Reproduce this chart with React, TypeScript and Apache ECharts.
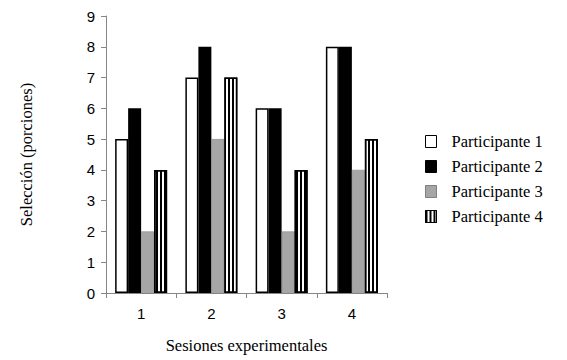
import React, { useEffect, useRef } from "react";
import * as echarts from "echarts";

const categories = ["1", "2", "3", "4"];
const participante1 = [5, 7, 6, 8];
const participante2 = [6, 8, 6, 8];
const participante3 = [2, 5, 2, 4];
const participante4 = [4, 7, 4, 5];
const seriesNames = ["Participante 1", "Participante 2", "Participante 3", "Participante 4"];

export default function App() {
  const ref = useRef<HTMLDivElement>(null);
  useEffect(() => {
    document.body.style.margin = "0";
    if (!ref.current) return;
    const chart = echarts.init(ref.current, null, { renderer: "svg" });
    const serif = "'Liberation Serif', 'Times New Roman', serif";
    const sans = "'Liberation Sans', Arial, sans-serif";
    chart.setOption({
      animation: false,
      backgroundColor: "#fff",
      grid: { left: 106, right: 180, top: 16, bottom: 67 },
      legend: {
        orient: "vertical",
        left: 420,
        top: 128,
        itemWidth: 11,
        itemHeight: 12,
        itemGap: 8,
        icon: "rect",
        itemStyle: { borderWidth: 1 },
        textStyle: { fontFamily: serif, fontSize: 16.5, color: "#000", padding: [0, 0, 0, 10] },
        data: seriesNames,
      },
      xAxis: {
        type: "category",
        data: categories,
        name: "Sesiones experimentales",
        nameLocation: "middle",
        nameGap: 44,
        nameTextStyle: { fontFamily: serif, fontSize: 16.5, color: "#000" },
        axisLine: { lineStyle: { color: "#868686", width: 1 } },
        axisTick: { show: true, length: 5, lineStyle: { color: "#868686" } },
        axisLabel: { fontFamily: sans, fontSize: 15, color: "#000", margin: 13 },
      },
      yAxis: {
        type: "value",
        min: 0,
        max: 9,
        interval: 1,
        name: "Selección (porciones)",
        nameLocation: "middle",
        nameGap: 71,
        nameRotate: 90,
        nameTextStyle: { fontFamily: serif, fontSize: 16.5, color: "#000" },
        splitLine: { show: false },
        axisLine: { show: true, lineStyle: { color: "#868686", width: 1 } },
        axisTick: { show: true, length: 5, lineStyle: { color: "#868686" } },
        axisLabel: { fontFamily: sans, fontSize: 15, color: "#000", margin: 11 },
      },
      series: [
        {
          name: seriesNames[0],
          type: "bar",
          data: participante1,
          barGap: "0%",
          barCategoryGap: "26%",
          itemStyle: { color: "#fff", borderColor: "#000", borderWidth: 1.5 },
        },
        {
          name: seriesNames[1],
          type: "bar",
          data: participante2,
          itemStyle: { color: "#000", borderColor: "#000", borderWidth: 0 },
        },
        {
          name: seriesNames[2],
          type: "bar",
          data: participante3,
          itemStyle: { color: "#a6a6a6", borderColor: "#7f7f7f", borderWidth: 0.5 },
        },
        {
          name: seriesNames[3],
          type: "bar",
          data: participante4,
          itemStyle: {
            color: "#fff",
            borderColor: "#000",
            borderWidth: 1.5,
            decal: {
              symbol: "rect",
              symbolSize: 1,
              color: "#000",
              dashArrayX: [2, 2],
              dashArrayY: [4, 0],
              rotation: 0,
            },
          },
        },
      ],
    });
    return () => chart.dispose();
  }, []);
  return <div ref={ref} style={{ width: 567, height: 360 }} />;
}
